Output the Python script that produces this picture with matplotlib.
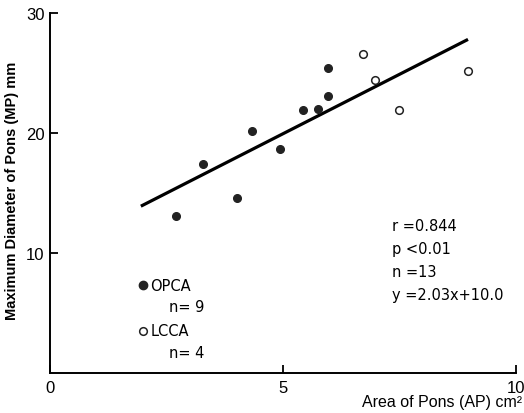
import numpy as np
import matplotlib
matplotlib.use('Agg')
import matplotlib.pyplot as plt

plt.rcParams['font.family'] = ['Liberation Sans Narrow', 'Liberation Sans', 'DejaVu Sans']

# OPCA (filled) and LCCA (open) points
opca_x = [2.70, 3.28, 4.01, 4.33, 4.94, 5.43, 5.75, 5.97, 5.97]
opca_y = [13.1, 17.4, 14.6, 20.2, 18.7, 21.9, 22.0, 23.1, 25.4]
lcca_x = [6.72, 6.97, 7.49, 8.97]
lcca_y = [26.6, 24.4, 21.9, 25.2]
# regression line end points (y = 2.03x + 10.0)
fit_x = [1.95, 8.97]
fit_y = [13.9, 27.8]

xticks = [0, 5, 10]
yticks = [10, 20, 30]
stats = ['r =0.844', 'p <0.01', 'n =13', 'y =2.03x+10.0']

wide = ['DejaVu Sans']

fig = plt.figure(figsize=(5.24, 4.14), dpi=100)
ax = fig.add_axes([50/524, 40/414, 466/524, 360/414])

ax.plot(fit_x, fit_y, color='black', lw=2.3, solid_capstyle='butt')
ax.plot(opca_x, opca_y, 'o', color='#222222', ms=5.5, mec='#222222')
ax.plot(lcca_x, lcca_y, 'o', mfc='white', mec='#222222', ms=5.5, mew=1.1)

ax.set_xlim(0, 10)
ax.set_ylim(0, 30)
ax.set_xticks(xticks)
ax.set_yticks(yticks)
ax.spines['top'].set_visible(False)
ax.spines['right'].set_visible(False)
for s in ['left', 'bottom']:
    ax.spines[s].set_linewidth(1.4)
ax.tick_params(direction='in', length=6, width=1.3, labelsize=12, pad=4)
ax.tick_params(axis='x', pad=5)

# legend drawn by hand
ax.plot([0.2], [0.244], 'o', color='#222222', ms=6, transform=ax.transAxes, clip_on=False)
ax.plot([0.2], [0.117], 'o', mfc='white', mec='#222222', ms=5.5, mew=1.1,
        transform=ax.transAxes, clip_on=False)
ax.text(0.215, 0.244, 'OPCA', transform=ax.transAxes, va='center', fontsize=10.5, family=wide)
ax.text(0.255, 0.186, 'n= 9', transform=ax.transAxes, va='center', fontsize=10.5, family=wide)
ax.text(0.215, 0.117, 'LCCA', transform=ax.transAxes, va='center', fontsize=10.5, family=wide)
ax.text(0.255, 0.058, 'n= 4', transform=ax.transAxes, va='center', fontsize=10.5, family=wide)

ax.text(0.733, 0.43, '\n'.join(stats), transform=ax.transAxes, va='top', fontsize=10.5,
        linespacing=1.65, family=wide)

fig.text(0.997, 0.028, 'Area of Pons (AP) cm²', ha='right', va='center', fontsize=11.5)
fig.text(0.023, 0.54, 'Maximum Diameter of Pons (MP) mm', rotation=90,
         ha='center', va='center', fontsize=10.5, fontweight='bold')

fig.savefig('out.png', dpi=100)
